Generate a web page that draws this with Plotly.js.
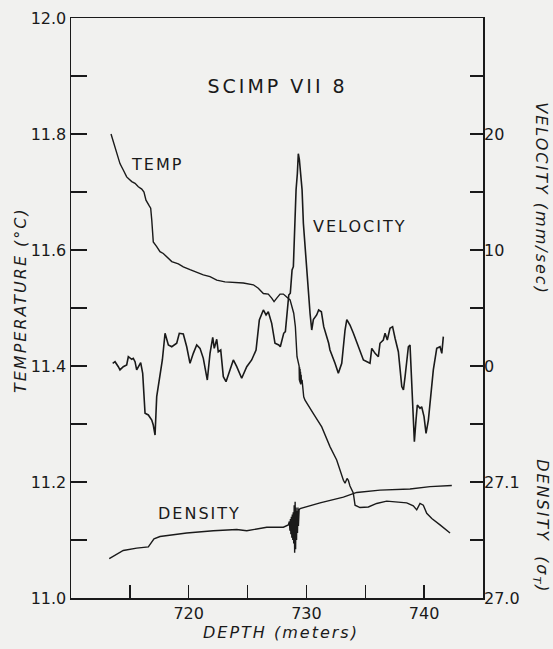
<!DOCTYPE html>
<html>
<head>
<meta charset="utf-8">
<script src="https://cdn.plot.ly/plotly-3.0.1.min.js"></script>
<style>
  html, body { margin:0; padding:0; background:#f1f1ef; }
</style>
</head>
<body>
<div id="chart" style="width:553px;height:649px;"></div>
<script>
// ---- Temperature (°C) vs depth (m) ----
var depthTemp = [713.40,713.59,713.88,714.16,714.44,714.73,715.16,715.44,715.72,716.01,716.20,716.37,716.65,716.77,716.86,716.91,716.99,717.28,717.56,717.84,718.13,718.56,719.12,719.54,720.11,720.68,721.24,721.81,722.38,723.08,723.79,724.64,725.49,725.91,726.34,726.76,727.05,727.25,727.48,727.76,728.04,728.33,728.61,728.92,729.06,729.20,729.35,729.38,729.40,729.42,729.44,729.46,729.48,729.50,729.52,729.55,729.58,729.63,729.77,729.88,730.59,731.30,732.00,732.57,733.14,733.28,733.45,733.56,733.70,733.98,734.13,734.55,735.26,735.97,736.82,737.67,738.52,739.08,739.37,739.65,739.93,740.22,740.65,741.35,742.20];
var tempVals  = [11.800,11.787,11.767,11.749,11.738,11.726,11.718,11.715,11.709,11.705,11.700,11.686,11.676,11.672,11.652,11.629,11.614,11.606,11.597,11.594,11.588,11.580,11.576,11.571,11.566,11.561,11.557,11.554,11.548,11.545,11.544,11.543,11.540,11.534,11.525,11.524,11.517,11.511,11.517,11.524,11.524,11.519,11.514,11.491,11.468,11.416,11.405,11.400,11.375,11.398,11.372,11.395,11.370,11.390,11.368,11.385,11.370,11.376,11.347,11.341,11.318,11.295,11.261,11.238,11.203,11.198,11.206,11.203,11.193,11.181,11.160,11.156,11.157,11.163,11.167,11.166,11.164,11.159,11.152,11.163,11.160,11.146,11.137,11.126,11.112];

// ---- Velocity (mm/sec) vs depth (m) ----
var depthVel = [713.54,713.74,714.02,714.16,714.44,714.73,714.87,715.16,715.29,715.44,715.58,715.92,716.09,716.29,716.57,716.86,716.99,717.14,717.28,717.56,717.76,717.99,718.27,718.56,718.98,719.20,719.54,719.83,720.11,720.39,720.68,720.96,721.24,721.58,721.81,722.04,722.17,722.38,722.51,722.72,722.94,723.17,723.36,723.79,724.08,724.50,724.93,725.35,725.72,726.00,726.34,726.57,726.76,727.05,727.33,727.65,727.78,728.07,728.21,728.35,728.50,728.63,728.78,728.89,728.95,729.03,729.12,729.23,729.31,729.40,729.52,729.63,729.74,729.88,730.03,730.16,730.31,730.45,730.59,730.87,731.04,731.27,731.47,731.89,732.00,732.43,732.71,733.00,733.14,733.28,733.43,733.70,733.99,734.55,734.84,735.40,735.55,735.83,736.11,736.25,736.53,736.68,736.87,737.10,737.32,737.53,737.81,738.10,738.24,738.38,738.66,738.80,738.95,739.08,739.17,739.31,739.42,739.65,739.79,739.99,740.16,740.36,740.56,740.78,741.07,741.35,741.50,741.63];
var velVals  = [0.23,0.37,-0.06,-0.34,-0.06,0.09,0.80,0.58,0.66,0.37,-0.34,0.29,-0.63,-4.08,-4.22,-4.66,-5.09,-5.95,-2.64,-0.92,0.52,2.82,1.81,1.66,1.96,2.82,2.76,1.66,0.23,1.09,1.81,1.52,0.66,-1.21,1.09,2.47,1.52,2.30,1.23,1.38,-0.92,-1.35,-0.78,0.52,-0.06,-1.06,-0.06,0.52,1.38,3.97,4.83,4.40,4.68,3.68,1.96,1.81,1.66,2.82,2.96,4.54,6.12,6.27,8.28,8.56,10.9,13.4,15.2,16.6,18.3,17.8,16.6,15.2,12.3,10.3,8.0,6.0,4.5,3.1,4.0,4.4,4.83,4.68,3.39,1.96,1.38,0.23,-0.63,0.23,1.96,3.10,4.00,3.53,2.82,1.38,0.52,0.23,1.52,1.09,0.80,1.96,2.24,2.82,2.24,3.25,3.39,2.39,1.23,-1.78,-2.07,-0.92,1.66,1.81,-1.78,-4.66,-6.53,-4.66,-3.36,-3.65,-3.51,-4.37,-5.80,-4.66,-2.35,-0.34,1.52,1.66,1.09,2.53];

// ---- Density (sigma-T) vs depth (m) ----
var depthDens = [713.25,714.44,715.58,716.57,717.05,717.56,719.83,722.09,724.08,724.93,726.63,727.76,728.04,728.46,728.55,728.60,728.64,728.68,728.72,728.76,728.80,728.84,728.88,728.92,728.96,729.00,729.04,729.08,729.12,729.16,729.20,729.24,729.28,729.32,729.38,729.46,731.16,733.14,734.27,736.25,738.80,740.50,742.35];
var densVals  = [27.034,27.041,27.043,27.044,27.051,27.053,27.056,27.058,27.059,27.058,27.061,27.061,27.061,27.063,27.066,27.058,27.068,27.055,27.070,27.052,27.072,27.050,27.074,27.047,27.080,27.039,27.083,27.042,27.078,27.050,27.075,27.056,27.078,27.062,27.076,27.077,27.082,27.087,27.091,27.093,27.094,27.096,27.097];

// ---- Tick labels ----
var xTickVals = [720,730,740];
var xTickText = ['720','730','740'];
var tTickVals = [11.0,11.2,11.4,11.6,11.8,12.0];
var tTickText = ['11.0','11.2','11.4','11.6','11.8','12.0'];
var vTickVals = [0,10,20];
var vTickText = ['0','10','20'];
var dTickVals = [27.0,27.1];
var dTickText = ['27.0','27.1'];

var ink = '#1a1a1a';
var FONT = 'DejaVu Sans';

var traces = [
  {x: depthTemp, y: tempVals, type:'scatter', mode:'lines', yaxis:'y', line:{color:ink, width:1.4}, hoverinfo:'skip'},
  {x: depthVel, y: velVals, type:'scatter', mode:'lines', yaxis:'y2', line:{color:ink, width:1.6}, hoverinfo:'skip'},
  {x: depthDens, y: densVals, type:'scatter', mode:'lines', yaxis:'y3', line:{color:ink, width:1.4}, hoverinfo:'skip'}
];

var axisCommon = {ticks:'inside', tickcolor:ink, tickwidth:1.5, showgrid:false, zeroline:false, tickfont:{family:FONT, size:16, color:ink}};

var layout = {
  width:553, height:649,
  margin:{l:71, r:70, t:18, b:51, pad:0},
  paper_bgcolor:'#f1f1ef', plot_bgcolor:'#f1f1ef',
  showlegend:false,
  font:{family:FONT, size:16, color:ink},
  xaxis: Object.assign({}, axisCommon, {range:[710,745], tickmode:'array', tickvals:xTickVals, ticktext:xTickText, ticklen:13,
          minor:{tick0:715, dtick:10, ticks:'inside', ticklen:13, tickwidth:1.5, tickcolor:ink, showgrid:false},
          showline:true, linecolor:ink, linewidth:1.5, mirror:true}),
  yaxis: Object.assign({}, axisCommon, {range:[11,12], tickmode:'array', tickvals:tTickVals, ticktext:tTickText, ticklen:16,
          minor:{tick0:11.1, dtick:0.2, ticks:'inside', ticklen:16, tickwidth:1.5, tickcolor:ink, showgrid:false},
          showline:true, linecolor:ink, linewidth:1.5, mirror:true}),
  yaxis2: Object.assign({}, axisCommon, {range:[-20,30], overlaying:'y', side:'right', anchor:'x', tickmode:'array', tickvals:vTickVals, ticktext:vTickText, ticklen:13,
          minor:{tick0:-15, dtick:10, ticks:'inside', ticklen:13, tickwidth:1.5, tickcolor:ink, showgrid:false},
          showline:false}),
  yaxis3: Object.assign({}, axisCommon, {range:[27.0,27.5], overlaying:'y', side:'right', anchor:'x', tickmode:'array', tickvals:dTickVals, ticktext:dTickText, ticklen:13, showline:false}),
  annotations: [
    {text:'SCIMP VII 8', xref:'paper', yref:'paper', x:0.5, y:0.883, showarrow:false, xanchor:'center', yanchor:'middle', font:{family:FONT, size:19, color:ink}},
    {text:'TEMP', xref:'paper', yref:'paper', x:0.211, y:0.748, showarrow:false, xanchor:'center', yanchor:'middle', font:{family:FONT, size:16, color:ink}},
    {text:'VELOCITY', xref:'paper', yref:'paper', x:0.701, y:0.641, showarrow:false, xanchor:'center', yanchor:'middle', font:{family:FONT, size:16, color:ink}},
    {text:'DENSITY', xref:'paper', yref:'paper', x:0.311, y:0.145, showarrow:false, xanchor:'center', yanchor:'middle', font:{family:FONT, size:16, color:ink}},
    {text:'TEMPERATURE (°C)', xref:'paper', yref:'paper', x:-0.121, y:0.514, showarrow:false, textangle:-90, xanchor:'center', yanchor:'middle', font:{family:FONT, size:16, color:ink, style:'italic'}},
    {text:'VELOCITY (mm/sec)', xref:'paper', yref:'paper', x:1.14, y:0.688, showarrow:false, textangle:90, xanchor:'center', yanchor:'middle', font:{family:FONT, size:16, color:ink, style:'italic'}},
    {text:'DENSITY  (σ<sub>T</sub>)', xref:'paper', yref:'paper', x:1.14, y:0.221, showarrow:false, textangle:90, xanchor:'center', yanchor:'top', font:{family:FONT, size:16, color:ink, style:'italic'}},
    {text:'DEPTH (meters)', xref:'paper', yref:'paper', x:0.51, y:-0.059, showarrow:false, xanchor:'center', yanchor:'middle', font:{family:FONT, size:16, color:ink, style:'italic'}}
  ]
};

Plotly.newPlot('chart', traces, layout, {displayModeBar:false, staticPlot:true}).then(function(){
  var nodes = document.querySelectorAll('.annotation-text');
  nodes.forEach(function(n){
    var t = n.textContent;
    if (t === 'SCIMP VII 8') n.style.letterSpacing = '3px';
    else n.style.letterSpacing = '2px';
  });
});
</script>
</body>
</html>
